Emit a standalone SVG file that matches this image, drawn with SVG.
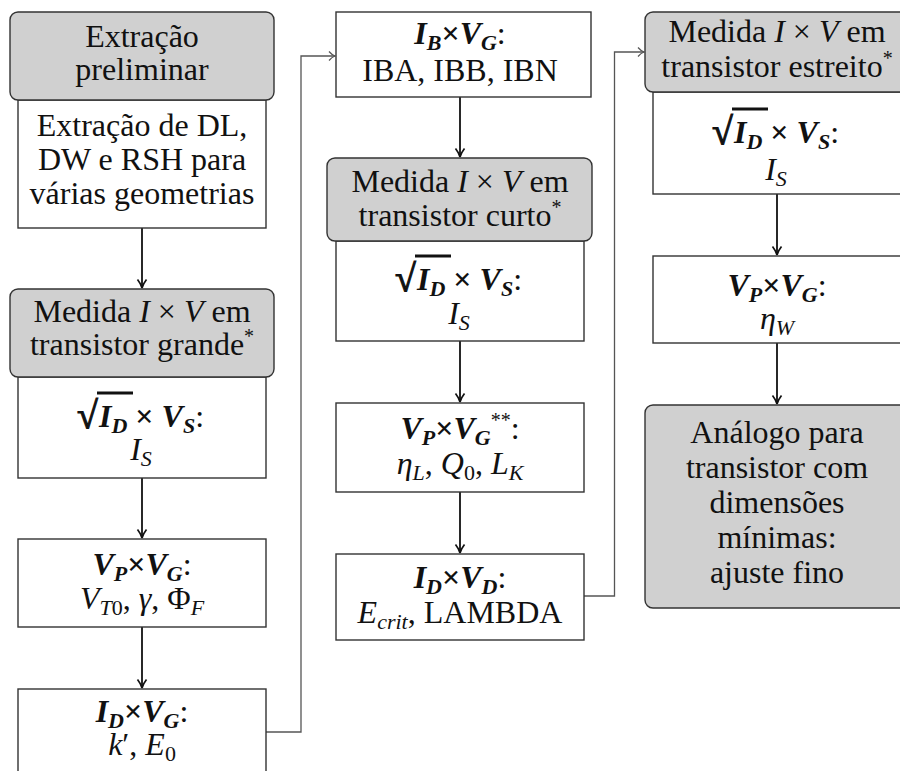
<svg xmlns="http://www.w3.org/2000/svg" width="900" height="771" viewBox="0 0 900 771">
  <defs>
    <style>
      .box { fill: #ffffff; stroke: #333333; stroke-width: 1.4; }
      .hdr { fill: #d0d0d0; stroke: #333333; stroke-width: 1.4; }
      .t { font-family: "Liberation Serif", "Times New Roman", "DejaVu Serif", serif; font-size: 32px; fill: #111111; text-anchor: middle; }
      .s { text-anchor: start; }
      .bi { font-weight: bold; font-style: italic; }
      .b { font-weight: bold; }
      .i { font-style: italic; }
      .sub { font-size: 22px; }
      .sup { font-size: 20px; }
      .rad { font-weight: bold; font-size: 38px; stroke: #111111; stroke-width: 1.1; }
      .flow { fill: none; stroke: #111111; stroke-width: 1.8; marker-end: url(#head); }
      .jump { fill: none; stroke: #555555; stroke-width: 1.3; marker-end: url(#open); }
      .vinc { stroke: #111111; stroke-width: 2.8; }
    </style>
    <marker id="head" markerWidth="12" markerHeight="12" refX="10" refY="6" orient="auto" markerUnits="userSpaceOnUse">
      <path d="M1.5,1.5 Q6,5 10,6 Q6,7 1.5,10.5" fill="none" stroke="#111111" stroke-width="1.7"/>
    </marker>
    <marker id="open" markerWidth="10" markerHeight="12" refX="8" refY="6" orient="auto" markerUnits="userSpaceOnUse">
      <path d="M2,1.5 Q5,5 8,6 Q5,7 2,10.5" fill="none" stroke="#555555" stroke-width="1.2"/>
    </marker>
  </defs>

  <!-- connectors -->
  <g id="connectors">
    <path class="flow" d="M142,228 V288"/>
    <path class="flow" d="M142,478 V538"/>
    <path class="flow" d="M142,627 V688"/>
    <path class="flow" d="M460,97 V157"/>
    <path class="flow" d="M460,341 V402"/>
    <path class="flow" d="M460,492 V553"/>
    <path class="flow" d="M777,194 V255"/>
    <path class="flow" d="M777,343 V404"/>
    <path class="jump" d="M266,732 H301 V56 H335"/>
    <path class="jump" d="M584,596 H614.5 V52 H644"/>
  </g>

  <!-- column 1 -->
  <g id="n-extracao-prelim">
    <rect class="box" x="18" y="100" width="248" height="128"/>
    <rect class="hdr" x="10" y="12" width="264" height="88" rx="8"/>
    <text class="t" x="142" y="47">Extração</text>
    <text class="t" x="142" y="80">preliminar</text>
    <text class="t" x="142" y="136">Extração de DL,</text>
    <text class="t" x="142" y="170">DW e RSH para</text>
    <text class="t" x="142" y="204">várias geometrias</text>
  </g>

  <g id="n-grande">
    <rect class="box" x="18" y="377" width="248" height="101"/>
    <rect class="hdr" x="10" y="289" width="264" height="88" rx="8"/>
    <text class="t" x="142" y="322">Medida <tspan class="i">I</tspan> × <tspan class="i">V</tspan> em</text>
    <text class="t" x="142" y="355">transistor grande<tspan class="sup" dy="-12">*</tspan></text>
    <text class="t rad s" x="77" y="428">√</text>
    <text class="t s" x="99" y="427"><tspan class="bi">I</tspan><tspan class="bi sub" dy="6">D</tspan><tspan class="b" dy="-6"> × </tspan><tspan class="bi">V</tspan><tspan class="bi sub" dy="6">S</tspan><tspan dy="-6">:</tspan></text>
    <line class="vinc" x1="97" y1="393" x2="133" y2="393"/>
    <text class="t" x="141" y="460"><tspan class="i">I</tspan><tspan class="i sub" dy="6">S</tspan></text>
  </g>

  <g id="n-vp-vg-1">
    <rect class="box" x="18" y="539" width="248" height="88"/>
    <text class="t" x="142" y="575"><tspan class="bi">V</tspan><tspan class="bi sub" dy="6">P</tspan><tspan class="b" dy="-6">×</tspan><tspan class="bi">V</tspan><tspan class="bi sub" dy="6">G</tspan><tspan dy="-6">:</tspan></text>
    <text class="t" x="142" y="609"><tspan class="i">V</tspan><tspan class="sub" dy="6"><tspan class="i">T</tspan>0</tspan><tspan dy="-6">, </tspan><tspan class="i">γ</tspan>, Φ<tspan class="i sub" dy="6">F</tspan></text>
  </g>

  <g id="n-id-vg">
    <rect class="box" x="18" y="689" width="248" height="120"/>
    <text class="t" x="142" y="722"><tspan class="bi">I</tspan><tspan class="bi sub" dy="6">D</tspan><tspan class="b" dy="-6">×</tspan><tspan class="bi">V</tspan><tspan class="bi sub" dy="6">G</tspan><tspan dy="-6">:</tspan></text>
    <text class="t" x="142" y="755"><tspan class="i">k</tspan>′, <tspan class="i">E</tspan><tspan class="sub" dy="6">0</tspan></text>
  </g>

  <!-- column 2 -->
  <g id="n-ib-vg">
    <rect class="box" x="336" y="12" width="255" height="85"/>
    <text class="t" x="460" y="44"><tspan class="bi">I</tspan><tspan class="bi sub" dy="6">B</tspan><tspan class="b" dy="-6">×</tspan><tspan class="bi">V</tspan><tspan class="bi sub" dy="6">G</tspan><tspan dy="-6">:</tspan></text>
    <text class="t" x="460" y="81">IBA, IBB, IBN</text>
  </g>

  <g id="n-curto">
    <rect class="box" x="336" y="241" width="248" height="100"/>
    <rect class="hdr" x="327" y="158" width="265" height="83" rx="8"/>
    <text class="t" x="460" y="192">Medida <tspan class="i">I</tspan> × <tspan class="i">V</tspan> em</text>
    <text class="t" x="460" y="226">transistor curto<tspan class="sup" dy="-12">*</tspan></text>
    <text class="t rad s" x="395" y="291">√</text>
    <text class="t s" x="417" y="290"><tspan class="bi">I</tspan><tspan class="bi sub" dy="6">D</tspan><tspan class="b" dy="-6"> × </tspan><tspan class="bi">V</tspan><tspan class="bi sub" dy="6">S</tspan><tspan dy="-6">:</tspan></text>
    <line class="vinc" x1="415" y1="256" x2="451" y2="256"/>
    <text class="t" x="459" y="324"><tspan class="i">I</tspan><tspan class="i sub" dy="6">S</tspan></text>
  </g>

  <g id="n-vp-vg-2">
    <rect class="box" x="336" y="403" width="248" height="89"/>
    <text class="t" x="460" y="439"><tspan class="bi">V</tspan><tspan class="bi sub" dy="6">P</tspan><tspan class="b" dy="-6">×</tspan><tspan class="bi">V</tspan><tspan class="bi sub" dy="6">G</tspan><tspan class="sup" dy="-18">**</tspan><tspan dy="12">:</tspan></text>
    <text class="t" x="460" y="474"><tspan class="i">η</tspan><tspan class="i sub" dy="6">L</tspan><tspan dy="-6">, </tspan><tspan class="i">Q</tspan><tspan class="sub" dy="6">0</tspan><tspan dy="-6">, </tspan><tspan class="i">L</tspan><tspan class="i sub" dy="6">K</tspan></text>
  </g>

  <g id="n-id-vd">
    <rect class="box" x="336" y="554" width="248" height="86"/>
    <text class="t" x="460" y="588"><tspan class="bi">I</tspan><tspan class="bi sub" dy="6">D</tspan><tspan class="b" dy="-6">×</tspan><tspan class="bi">V</tspan><tspan class="bi sub" dy="6">D</tspan><tspan dy="-6">:</tspan></text>
    <text class="t" x="460" y="623"><tspan class="i">E</tspan><tspan class="i sub" dy="6">crit</tspan><tspan dy="-6">, LAMBDA</tspan></text>
  </g>

  <!-- column 3 -->
  <g id="n-estreito">
    <rect class="box" x="653" y="92" width="260" height="102"/>
    <rect class="hdr" x="645" y="12" width="276" height="80" rx="8"/>
    <text class="t" x="777" y="42">Medida <tspan class="i">I</tspan> × <tspan class="i">V</tspan> em</text>
    <text class="t" x="777" y="77">transistor estreito<tspan class="sup" dy="-12">*</tspan></text>
    <text class="t rad s" x="712" y="144">√</text>
    <text class="t s" x="734" y="143"><tspan class="bi">I</tspan><tspan class="bi sub" dy="6">D</tspan><tspan class="b" dy="-6"> × </tspan><tspan class="bi">V</tspan><tspan class="bi sub" dy="6">S</tspan><tspan dy="-6">:</tspan></text>
    <line class="vinc" x1="732" y1="109" x2="768" y2="109"/>
    <text class="t" x="776" y="180"><tspan class="i">I</tspan><tspan class="i sub" dy="6">S</tspan></text>
  </g>

  <g id="n-vp-vg-3">
    <rect class="box" x="653" y="256" width="260" height="87"/>
    <text class="t" x="777" y="296"><tspan class="bi">V</tspan><tspan class="bi sub" dy="6">P</tspan><tspan class="b" dy="-6">×</tspan><tspan class="bi">V</tspan><tspan class="bi sub" dy="6">G</tspan><tspan dy="-6">:</tspan></text>
    <text class="t" x="777" y="329"><tspan class="i">η</tspan><tspan class="i sub" dy="6">W</tspan></text>
  </g>

  <g id="n-analogo">
    <rect class="hdr" x="645" y="405" width="276" height="203" rx="8"/>
    <text class="t" x="777" y="443">Análogo para</text>
    <text class="t" x="777" y="478">transistor com</text>
    <text class="t" x="777" y="513">dimensões</text>
    <text class="t" x="777" y="548">mínimas:</text>
    <text class="t" x="777" y="583">ajuste fino</text>
  </g>
</svg>
